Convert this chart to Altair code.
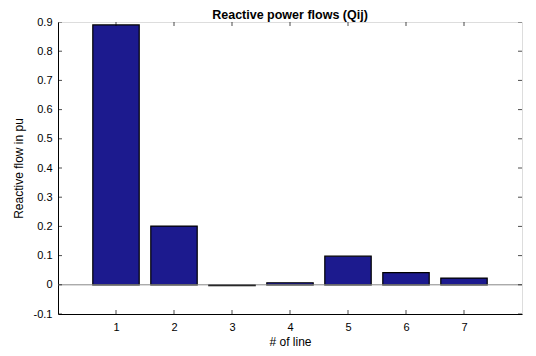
import altair as alt
import pandas as pd

lines = [1, 2, 3, 4, 5, 6, 7]
qij = [0.89, 0.201, -0.003, 0.007, 0.098, 0.042, 0.023]
x_ticks = [1, 2, 3, 4, 5, 6, 7]
y_ticks = [-0.1, 0, 0.1, 0.2, 0.3, 0.4, 0.5, 0.6, 0.7, 0.8, 0.9]

W, H = 464, 292
FONT = "Liberation Sans"

bars_df = pd.DataFrame({"line": lines, "q": qij})
xt_df = pd.DataFrame({"t": x_ticks})
yt_df = pd.DataFrame({"t": y_ticks})
zero_df = pd.DataFrame({"z": [0]})

xscale = alt.Scale(domain=[0, 8], nice=False, zero=False)
yscale = alt.Scale(domain=[-0.1, 0.9], nice=False, zero=False)

xaxis = alt.Axis(values=x_ticks, format="d", tickSize=0, grid=False, domainColor="black",
                 labelFont=FONT, labelFontSize=11, labelColor="black", labelPadding=7,
                 labelOverlap=False,
                 title="# of line", titleFont=FONT, titleFontSize=12,
                 titleFontWeight="normal", titleColor="black", titlePadding=4)
yaxis = alt.Axis(values=y_ticks, tickSize=0, grid=False, domainColor="black",
                 labelFont=FONT, labelFontSize=11, labelColor="black", labelPadding=6,
                 labelOverlap=False, labelFlush=False,
                 labelExpr="replace(format(datum.value, '.1~f'), '\u2212', '-')",
                 title="Reactive flow in pu", titleFont=FONT, titleFontSize=12,
                 titleFontWeight="normal", titleColor="black", titlePadding=8)

bars = alt.Chart(bars_df).transform_calculate(
    x0="datum.line - 0.4", x1="datum.line + 0.4"
).mark_bar(color="#1c1a8e", stroke="black", strokeWidth=1.2).encode(
    x=alt.X("x0:Q", scale=xscale, axis=xaxis),
    x2="x1:Q",
    y=alt.Y("q:Q", scale=yscale, axis=yaxis),
    y2=alt.datum(0),
)

zero = alt.Chart(zero_df).mark_rule(color="#888888", strokeWidth=1).encode(
    y=alt.Y("z:Q", scale=yscale, axis=yaxis)
)

tick = dict(color="black", size=8, thickness=1, clip=True)
xt_bottom = alt.Chart(xt_df).mark_tick(**tick).encode(
    x=alt.X("t:Q", scale=xscale, axis=xaxis), y=alt.value(H)
)
xt_top = alt.Chart(xt_df).mark_tick(**tick).encode(
    x=alt.X("t:Q", scale=xscale, axis=xaxis), y=alt.value(0)
)
yt_left = alt.Chart(yt_df).mark_tick(**tick).encode(
    y=alt.Y("t:Q", scale=yscale, axis=yaxis), x=alt.value(0)
)
yt_right = alt.Chart(yt_df).mark_tick(**tick).encode(
    y=alt.Y("t:Q", scale=yscale, axis=yaxis), x=alt.value(W)
)

chart = alt.layer(bars, zero, xt_bottom, xt_top, yt_left, yt_right).properties(
    width=W, height=H,
    title=alt.TitleParams("Reactive power flows (Qij)", font=FONT, fontSize=12.5,
                          fontWeight="bold", color="black", offset=-5),
    autosize=alt.AutoSizeParams(type="none"),
    padding={"left": 50, "top": 14, "right": 6, "bottom": 40},
).configure_view(stroke="black", strokeWidth=1).configure(background="white")

chart.save("out.html", embed_options={"renderer": "svg", "actions": False})
